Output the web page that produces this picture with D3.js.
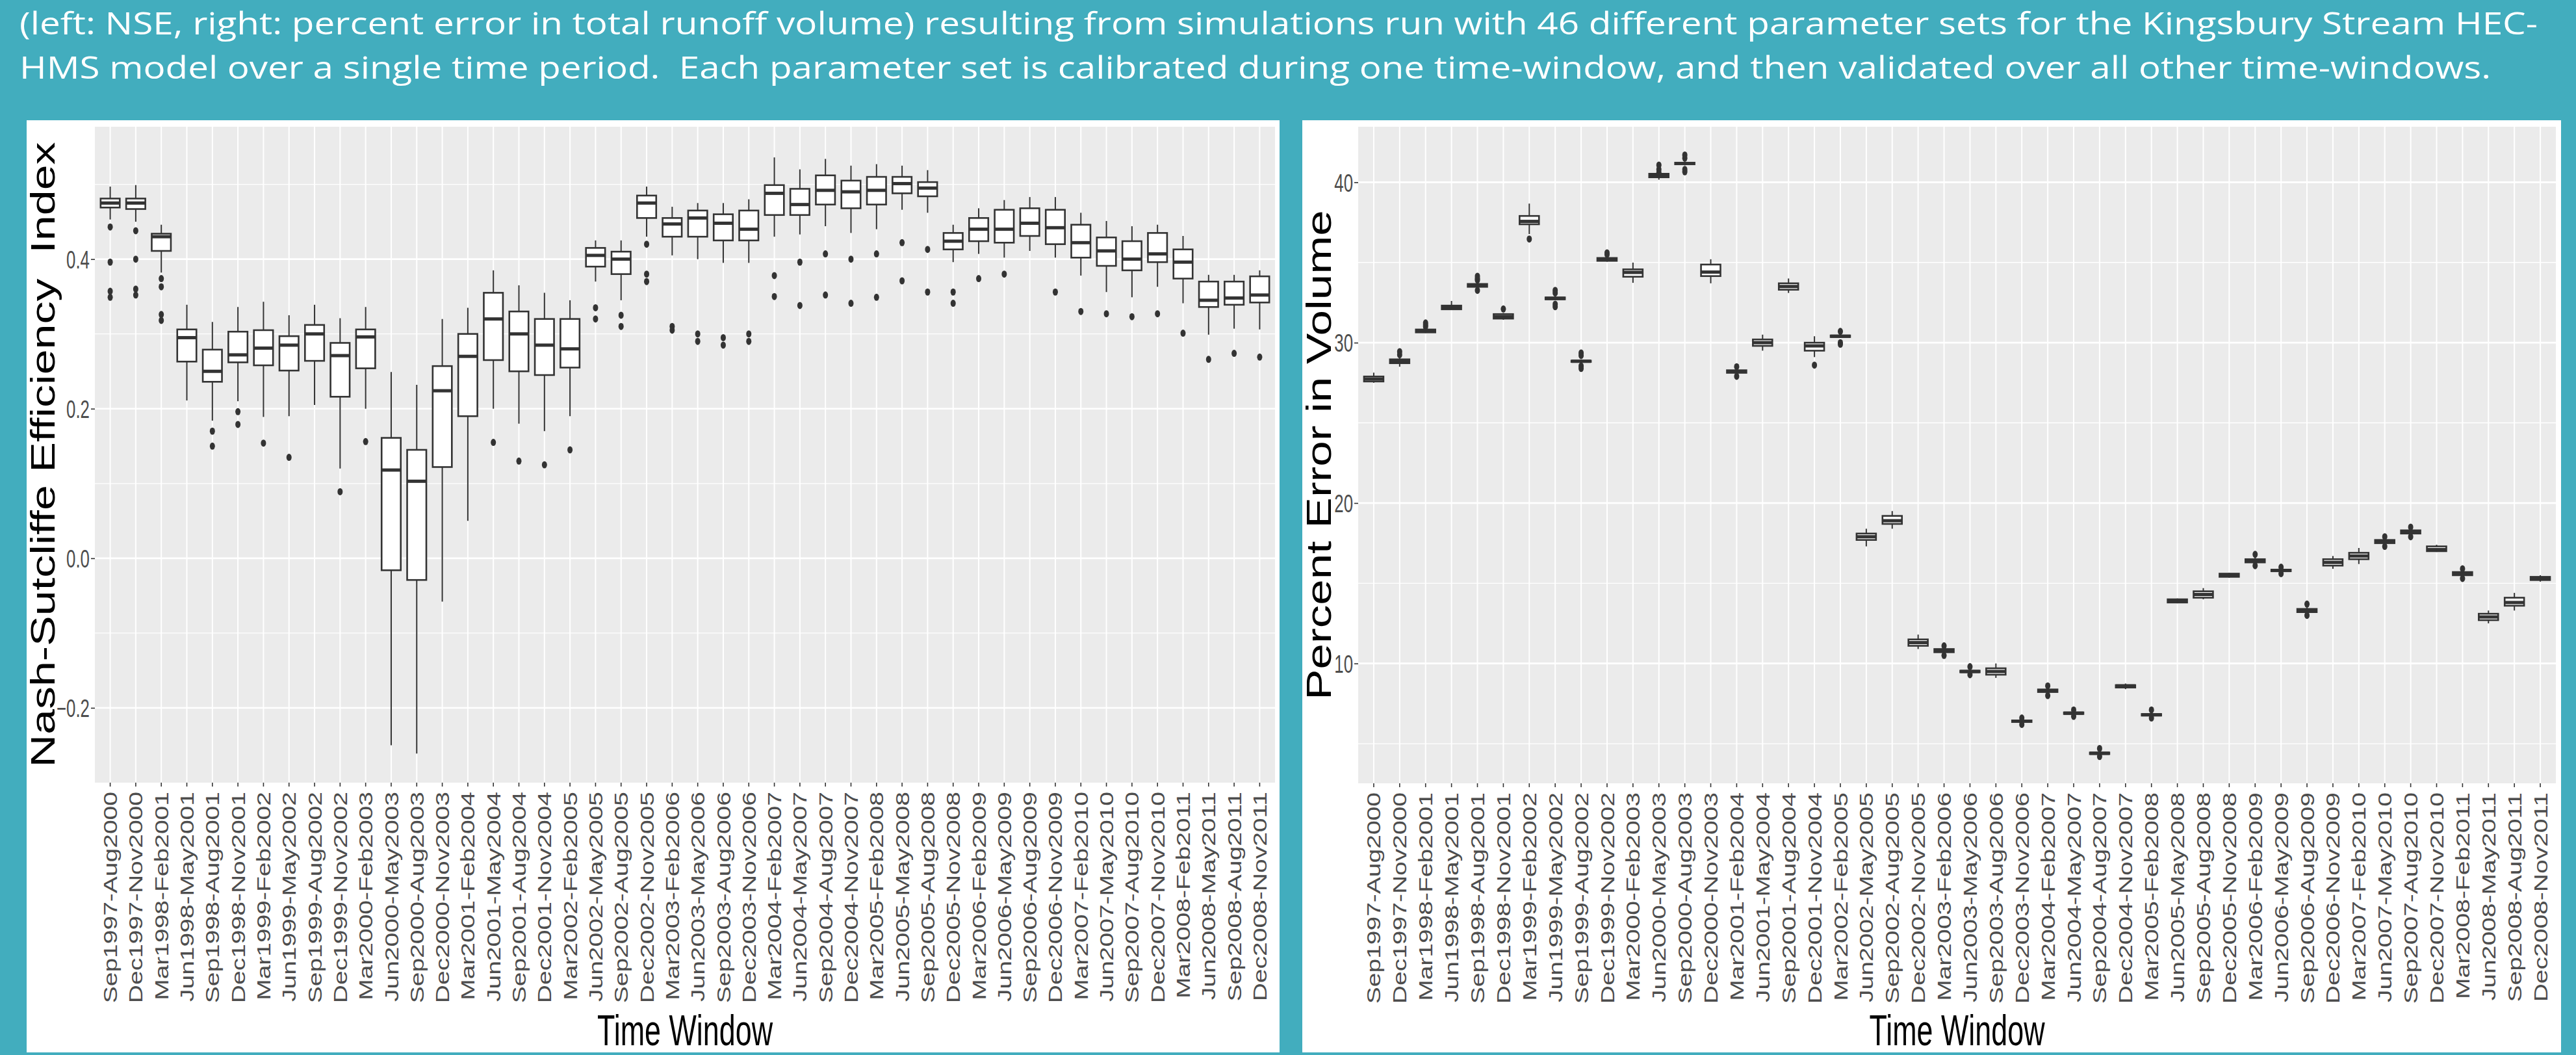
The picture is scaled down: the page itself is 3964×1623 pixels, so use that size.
<!DOCTYPE html>
<html>
<head>
<meta charset="utf-8">
<script src="https://cdn.jsdelivr.net/npm/d3@7"></script>
<style>
  body { margin: 0; background: #42adbe; }
  svg { display: block; }
</style>
</head>
<body>
<svg id="chart" width="3964" height="1623"></svg>
<script>
// time windows (x categories, shared by both panels)
const categories = [
  'Sep1997-Aug2000', 'Dec1997-Nov2000', 'Mar1998-Feb2001', 'Jun1998-May2001', 'Sep1998-Aug2001',
  'Dec1998-Nov2001', 'Mar1999-Feb2002', 'Jun1999-May2002', 'Sep1999-Aug2002', 'Dec1999-Nov2002',
  'Mar2000-Feb2003', 'Jun2000-May2003', 'Sep2000-Aug2003', 'Dec2000-Nov2003', 'Mar2001-Feb2004',
  'Jun2001-May2004', 'Sep2001-Aug2004', 'Dec2001-Nov2004', 'Mar2002-Feb2005', 'Jun2002-May2005',
  'Sep2002-Aug2005', 'Dec2002-Nov2005', 'Mar2003-Feb2006', 'Jun2003-May2006', 'Sep2003-Aug2006',
  'Dec2003-Nov2006', 'Mar2004-Feb2007', 'Jun2004-May2007', 'Sep2004-Aug2007', 'Dec2004-Nov2007',
  'Mar2005-Feb2008', 'Jun2005-May2008', 'Sep2005-Aug2008', 'Dec2005-Nov2008', 'Mar2006-Feb2009',
  'Jun2006-May2009', 'Sep2006-Aug2009', 'Dec2006-Nov2009', 'Mar2007-Feb2010', 'Jun2007-May2010',
  'Sep2007-Aug2010', 'Dec2007-Nov2010', 'Mar2008-Feb2011', 'Jun2008-May2011', 'Sep2008-Aug2011',
  'Dec2008-Nov2011'
];

// left panel: Nash-Sutcliffe efficiency (box stats per window)
const nseLow  = [0.453, 0.450, 0.382, 0.211, 0.184, 0.210, 0.189, 0.190, 0.205, 0.120, 0.200, -0.250, -0.261, -0.058, 0.050, 0.200, 0.180, 0.170, 0.190, 0.370, 0.345, 0.430, 0.405, 0.400, 0.395, 0.395, 0.430, 0.433, 0.444, 0.435, 0.440, 0.466, 0.462, 0.396, 0.407, 0.402, 0.411, 0.402, 0.378, 0.356, 0.349, 0.363, 0.341, 0.299, 0.307, 0.306];
const nseQ1   = [0.469, 0.467, 0.411, 0.263, 0.236, 0.262, 0.258, 0.251, 0.264, 0.216, 0.254, -0.016, -0.029, 0.122, 0.190, 0.265, 0.250, 0.245, 0.255, 0.390, 0.380, 0.455, 0.430, 0.430, 0.425, 0.425, 0.459, 0.459, 0.473, 0.468, 0.473, 0.488, 0.484, 0.413, 0.424, 0.422, 0.431, 0.420, 0.402, 0.391, 0.385, 0.396, 0.374, 0.336, 0.339, 0.342];
const nseMed  = [0.475, 0.475, 0.430, 0.295, 0.250, 0.272, 0.281, 0.285, 0.300, 0.271, 0.296, 0.118, 0.103, 0.224, 0.270, 0.320, 0.300, 0.285, 0.280, 0.405, 0.400, 0.475, 0.447, 0.455, 0.448, 0.440, 0.488, 0.473, 0.492, 0.490, 0.492, 0.501, 0.495, 0.424, 0.440, 0.440, 0.448, 0.442, 0.422, 0.411, 0.400, 0.407, 0.396, 0.345, 0.348, 0.352];
const nseQ3   = [0.481, 0.481, 0.434, 0.306, 0.279, 0.303, 0.305, 0.297, 0.312, 0.288, 0.306, 0.161, 0.145, 0.257, 0.300, 0.355, 0.330, 0.320, 0.320, 0.415, 0.410, 0.485, 0.455, 0.465, 0.460, 0.465, 0.499, 0.494, 0.512, 0.505, 0.510, 0.510, 0.503, 0.435, 0.455, 0.466, 0.468, 0.466, 0.446, 0.429, 0.424, 0.435, 0.413, 0.370, 0.370, 0.377];
const nseHigh = [0.497, 0.499, 0.446, 0.339, 0.316, 0.336, 0.343, 0.325, 0.339, 0.321, 0.336, 0.249, 0.232, 0.320, 0.335, 0.385, 0.365, 0.355, 0.345, 0.425, 0.425, 0.497, 0.470, 0.475, 0.475, 0.480, 0.536, 0.520, 0.534, 0.525, 0.527, 0.525, 0.519, 0.446, 0.468, 0.479, 0.483, 0.483, 0.462, 0.451, 0.444, 0.446, 0.431, 0.379, 0.379, 0.385];
const nseOut  = [
  [0.443, 0.396, 0.357, 0.349], [0.438, 0.400, 0.360, 0.352], [0.374, 0.363, 0.326, 0.318], [], [0.170, 0.150],
  [0.196, 0.179], [0.154], [0.135], [], [0.089],
  [0.156], [], [], [], [],
  [0.155], [0.130], [0.125], [0.145], [0.335, 0.320],
  [0.325, 0.310], [0.420, 0.380, 0.370], [0.310, 0.305], [0.300, 0.290], [0.295, 0.285],
  [0.300, 0.290], [0.378, 0.350], [0.396, 0.338], [0.407, 0.352], [0.400, 0.341],
  [0.407, 0.349], [0.422, 0.371], [0.413, 0.356], [0.356, 0.341], [0.374],
  [0.380], [], [0.356], [0.330], [0.327],
  [0.323], [0.327], [0.301], [0.266], [0.274],
  [0.269]
];

// right panel: percent error in volume (box stats per window)
const volLow  = [27.50, 28.50, 30.60, 32.05, 33.40, 31.43, 36.77, 32.65, 28.75, 35.05, 33.73, 40.16, 41.05, 33.70, 28.05, 29.50, 33.10, 29.10, 30.30, 17.30, 18.40, 10.90, 10.65, 9.40, 9.10, 6.30, 8.15, 6.80, 4.30, 8.40, 6.70, 13.75, 14.00, 15.35, 16.25, 15.70, 13.15, 15.90, 16.20, 17.45, 18.05, 16.95, 15.45, 12.50, 13.30, 15.10];
const volQ1   = [27.58, 28.72, 30.64, 32.08, 33.48, 31.50, 37.38, 32.70, 28.80, 35.10, 34.11, 40.31, 41.12, 34.15, 28.12, 29.80, 33.30, 29.50, 30.35, 17.70, 18.70, 11.10, 10.70, 9.45, 9.30, 6.35, 8.22, 6.85, 4.35, 8.50, 6.75, 13.80, 14.10, 15.40, 16.30, 15.75, 13.20, 16.10, 16.50, 17.50, 18.10, 17.00, 15.50, 12.70, 13.60, 15.20];
const volMed  = [27.73, 28.82, 30.73, 32.20, 33.57, 31.63, 37.56, 32.76, 28.84, 35.19, 34.38, 40.42, 41.17, 34.40, 28.20, 30.00, 33.50, 29.80, 30.40, 17.90, 18.90, 11.30, 10.80, 9.50, 9.50, 6.40, 8.30, 6.90, 4.40, 8.60, 6.80, 13.90, 14.30, 15.50, 16.40, 15.80, 13.30, 16.30, 16.70, 17.60, 18.20, 17.10, 15.60, 12.90, 13.80, 15.30];
const volQ3   = [27.89, 28.96, 30.82, 32.31, 33.66, 31.78, 37.90, 32.82, 28.88, 35.28, 34.57, 40.53, 41.22, 34.87, 28.28, 30.20, 33.70, 30.00, 30.45, 18.10, 19.20, 11.50, 10.90, 9.55, 9.70, 6.45, 8.38, 6.95, 4.45, 8.65, 6.85, 14.00, 14.50, 15.60, 16.50, 15.85, 13.40, 16.50, 16.90, 17.70, 18.30, 17.30, 15.70, 13.10, 14.10, 15.40];
const volHigh = [28.13, 29.07, 30.90, 32.60, 33.80, 31.85, 38.67, 32.88, 28.95, 35.35, 34.99, 40.55, 41.30, 35.20, 28.35, 30.50, 34.00, 30.40, 30.55, 18.40, 19.50, 11.80, 10.95, 9.60, 10.00, 6.50, 8.45, 7.00, 4.55, 8.75, 6.95, 14.05, 14.70, 15.65, 16.60, 15.90, 13.50, 16.70, 17.20, 17.75, 18.35, 17.40, 15.75, 13.30, 14.40, 15.50];
const volOut  = [
  [], [29.25, 29.44], [31.00, 31.10, 31.23], [], [33.26, 33.90, 34.00, 34.14],
  [32.10], [36.46], [33.26, 33.10, 32.40, 32.24], [29.36, 29.20, 28.55, 28.39], [35.50, 35.60],
  [], [40.60, 40.80, 41.07], [41.50, 41.70, 40.80, 40.65], [], [28.50, 27.90],
  [], [], [28.60], [30.70, 30.00, 29.90], [],
  [], [], [11.10, 10.50], [9.80, 9.30], [],
  [6.60, 6.20], [8.60, 8.00], [7.10, 6.70], [4.70, 4.20], [],
  [7.10, 6.60], [], [], [], [16.80, 16.10],
  [16.00, 15.60], [13.70, 13.00], [], [], [17.90, 17.30],
  [18.50, 17.90], [], [15.90, 15.30], [], [],
  []
];

const titleLines = [
  '(left: NSE, right: percent error in total runoff volume) resulting from simulations run with 46 different parameter sets for the Kingsbury Stream HEC-',
  'HMS model over a single time period.  Each parameter set is calibrated during one time-window, and then validated over all other time-windows.'
];

const teal = '#42adbe';
const ink = '#333333';
const tickInk = '#4d4d4d';
const plotFont = '"Liberation Sans", Arial, sans-serif';

const svg = d3.select('#chart');

svg.append('rect').attr('width', 3964).attr('height', 1623).attr('fill', teal);

// slide caption
svg.selectAll('text.caption')
  .data(titleLines)
  .join('text')
  .attr('class', 'caption')
  .attr('x', 30)
  .attr('y', (d, i) => [53, 121][i])
  .attr('textLength', (d, i) => [3875, 3803][i])
  .attr('lengthAdjust', 'spacingAndGlyphs')
  .style('white-space', 'pre')
  .attr('font-family', '"Open Sans", sans-serif')
  .attr('font-size', 48)
  .attr('fill', '#ffffff')
  .text((d) => d);

// white cards behind the two plots
svg.append('rect').attr('x', 41).attr('y', 185).attr('width', 1969 - 41).attr('height', 1619 - 185).attr('fill', '#fff');
svg.append('rect').attr('x', 2004).attr('y', 185).attr('width', 3941 - 2004).attr('height', 1619 - 185).attr('fill', '#fff');

function drawBoxPlot(opt) {
  const x = d3.scaleBand().domain(categories).range([opt.left, opt.right]).paddingInner(0).paddingOuter(0.1);
  const y = d3.scaleLinear().domain(opt.domain).range([opt.bottom, opt.top]);
  const cx = (c) => x(c) + x.bandwidth() / 2;
  const bw = x.bandwidth() * 0.75;

  const g = svg.append('g');

  g.append('rect')
    .attr('x', opt.left).attr('y', opt.top)
    .attr('width', opt.right - opt.left).attr('height', opt.bottom - opt.top)
    .attr('fill', '#ebebeb');

  // grid
  g.selectAll('line.minor').data(opt.minor).join('line')
    .attr('x1', opt.left).attr('x2', opt.right)
    .attr('y1', (d) => y(d)).attr('y2', (d) => y(d))
    .attr('stroke', '#fff').attr('stroke-width', 1.3);
  g.selectAll('line.major').data(opt.ticks).join('line')
    .attr('x1', opt.left).attr('x2', opt.right)
    .attr('y1', (d) => y(d)).attr('y2', (d) => y(d))
    .attr('stroke', '#fff').attr('stroke-width', 2.6);
  g.selectAll('line.vgrid').data(categories).join('line')
    .attr('x1', cx).attr('x2', cx)
    .attr('y1', opt.top).attr('y2', opt.bottom)
    .attr('stroke', '#fff').attr('stroke-width', 2);

  // boxes
  const rows = categories.map((c, i) => ({
    c, low: opt.low[i], q1: opt.q1[i], med: opt.med[i], q3: opt.q3[i], high: opt.high[i], out: opt.out[i]
  }));
  const box = g.selectAll('g.box').data(rows).join('g').attr('class', 'box');

  box.append('line')
    .attr('x1', (d) => cx(d.c)).attr('x2', (d) => cx(d.c))
    .attr('y1', (d) => y(d.low)).attr('y2', (d) => y(d.high))
    .attr('stroke', ink).attr('stroke-width', 2);
  box.append('rect')
    .attr('x', (d) => cx(d.c) - bw / 2).attr('width', bw)
    .attr('y', (d) => y(d.q3)).attr('height', (d) => Math.max(0, y(d.q1) - y(d.q3)))
    .attr('fill', '#fff').attr('stroke', ink).attr('stroke-width', 2.6);
  box.append('line')
    .attr('x1', (d) => cx(d.c) - bw / 2).attr('x2', (d) => cx(d.c) + bw / 2)
    .attr('y1', (d) => y(d.med)).attr('y2', (d) => y(d.med))
    .attr('stroke', ink).attr('stroke-width', 5);
  box.selectAll('ellipse')
    .data((d) => d.out.map((v) => ({ c: d.c, v })))
    .join('ellipse')
    .attr('cx', (d) => cx(d.c)).attr('cy', (d) => y(d.v))
    .attr('rx', 4).attr('ry', 5.5)
    .attr('fill', ink);

  // y axis
  const gy = g.append('g')
    .attr('transform', `translate(${opt.left},0)`)
    .call(d3.axisLeft(y).tickValues(opt.ticks).tickFormat(opt.fmt).tickSize(6).tickPadding(2));
  gy.select('.domain').remove();
  gy.attr('font-family', plotFont).attr('font-size', 38);
  gy.selectAll('.tick line').attr('stroke', ink).attr('stroke-width', 1.6);
  gy.selectAll('.tick text')
    .attr('fill', tickInk)
    .attr('x', 0)
    .attr('dy', '0.36em')
    .attr('transform', 'translate(-8,0) scale(0.68,1)');

  // x axis
  const gx = g.append('g')
    .attr('transform', `translate(0,${opt.bottom})`)
    .call(d3.axisBottom(x).tickSize(6));
  gx.select('.domain').remove();
  gx.attr('font-family', plotFont).attr('font-size', 39);
  gx.selectAll('.tick line').attr('stroke', ink).attr('stroke-width', 1.6);
  gx.selectAll('.tick text')
    .attr('fill', tickInk)
    .attr('x', 0).attr('y', 0)
    .attr('dy', '0.36em')
    .attr('text-anchor', 'end')
    .attr('transform', 'translate(0,14) scale(0.75,1) rotate(-90)');

  // axis titles
  g.append('text')
    .attr('transform', `translate(${opt.ylabelX},${(opt.top + opt.bottom) / 2}) scale(0.75,1) rotate(-90)`)
    .attr('text-anchor', 'middle')
    .attr('font-family', plotFont)
    .attr('font-size', opt.ylabelSize)
    .attr('fill', '#000')
    .style('white-space', 'pre')
    .text(opt.ylabel);

  g.append('text')
    .attr('transform', `translate(${(opt.left + opt.right) / 2},1608) scale(0.68,1)`)
    .attr('text-anchor', 'middle')
    .attr('font-family', plotFont)
    .attr('font-size', 66)
    .attr('fill', '#000')
    .text('Time Window');
}

drawBoxPlot({
  left: 146, right: 1962, top: 195, bottom: 1204,
  domain: [-0.3, 0.577],
  ticks: [-0.2, 0, 0.2, 0.4],
  minor: [-0.1, 0.1, 0.3, 0.5],
  fmt: d3.format('.1f'),
  low: nseLow, q1: nseQ1, med: nseMed, q3: nseQ3, high: nseHigh, out: nseOut,
  ylabel: 'Nash-Sutcliffe Efficiency  Index',
  ylabelX: 84, ylabelSize: 70
});

drawBoxPlot({
  left: 2090, right: 3933, top: 195, bottom: 1205,
  domain: [2.53, 43.46],
  ticks: [10, 20, 30, 40],
  minor: [5, 15, 25, 35],
  fmt: d3.format('d'),
  low: volLow, q1: volQ1, med: volMed, q3: volQ3, high: volHigh, out: volOut,
  ylabel: 'Percent Error in Volume',
  ylabelX: 2048, ylabelSize: 71
});
</script>
</body>
</html>
